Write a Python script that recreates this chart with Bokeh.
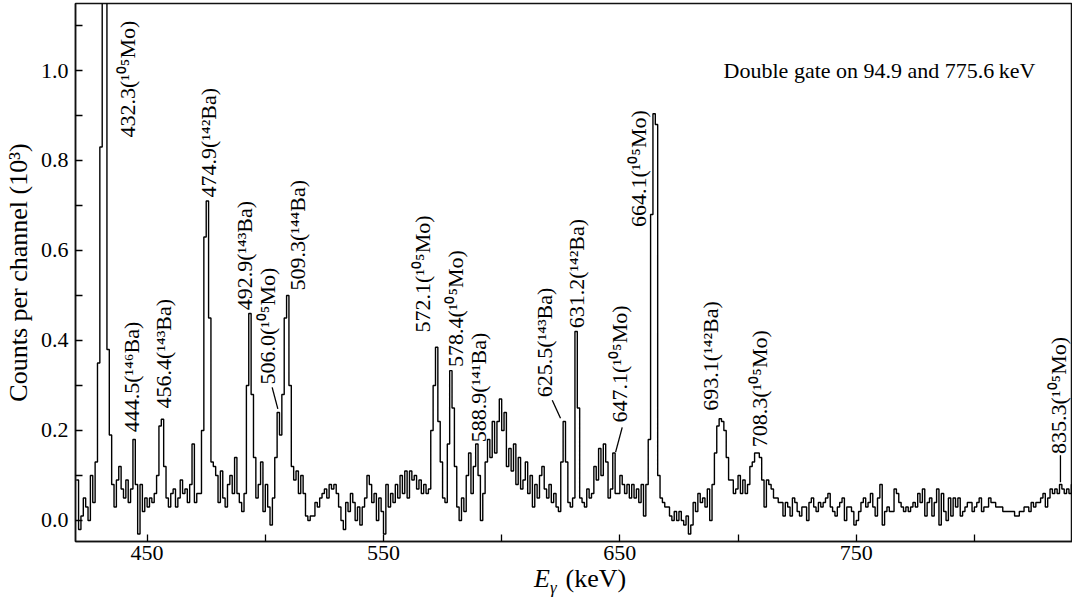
import math
from bokeh.plotting import figure
from bokeh.layouts import column
from bokeh.models import FixedTicker, Label, ColumnDataSource, PrintfTickFormatter, Div
from bokeh.core.properties import value
from bokeh.embed import file_html
from bokeh.resources import INLINE

# ---------------- data ----------------
energy_start_kev = 420
bin_width_kev = 1
# counts per channel, in units of 10^3, one value per 1-keV channel starting at 420 keV
counts_1e3 = [
    0.09, -0.02, 0.01, 0.05, 0.03, 0.00, 0.10, 0.04, 0.13, 0.35,   # 420
    0.83, 1.40, 1.40, 0.38, 0.19, 0.08, 0.03, 0.09, 0.12, 0.07,    # 430
    0.05, 0.09, 0.04, 0.07, 0.18, 0.08, -0.03, 0.08, 0.02, 0.05,   # 440
    0.03, 0.05, 0.04, 0.06, 0.10, 0.21, 0.225, 0.12, 0.05, 0.03,   # 450
    0.06, 0.07, 0.03, 0.05, 0.09, 0.06, 0.07, 0.04, 0.08, 0.17,    # 460
    0.04, 0.06, 0.06, 0.20, 0.63, 0.71, 0.45, 0.13, 0.12, 0.10,    # 470
    0.04, 0.11, 0.05, 0.03, 0.08, 0.10, 0.06, 0.14, 0.06, 0.04,    # 480
    0.02, 0.06, 0.30, 0.46, 0.28, 0.14, 0.05, 0.08, 0.13, 0.02,    # 490
    0.08, 0.03, -0.01, 0.05, 0.14, 0.24, 0.19, 0.28, 0.45, 0.50,   # 500
    0.30, 0.12, 0.09, 0.11, 0.06, 0.10, 0.06, 0.01, 0.00, 0.01,    # 510
    0.01, 0.04, 0.03, 0.05, 0.06, 0.07, 0.05, 0.08, 0.07, 0.08,    # 520
    0.06, 0.03, 0.00, -0.02, 0.04, 0.02, 0.06, 0.04, 0.00, 0.03,   # 530
    -0.01, 0.03, 0.05, 0.10, 0.08, 0.04, 0.06, 0.00, 0.05, 0.02,   # 540
    -0.03, 0.08, 0.03, 0.06, 0.04, 0.08, 0.05, 0.10, 0.06, 0.11,   # 550
    0.05, 0.11, 0.09, 0.10, 0.07, 0.09, 0.06, 0.08, 0.06, 0.07,    # 560
    0.20, 0.30, 0.385, 0.22, 0.13, 0.05, 0.04, 0.17, 0.333, 0.25,  # 570
    0.12, 0.03, 0.00, 0.05, 0.02, 0.10, 0.15, 0.06, 0.12, 0.17,    # 580
    0.10, 0.00, 0.06, 0.13, 0.18, 0.14, 0.22, 0.15, 0.22, 0.27,    # 590
    0.20, 0.24, 0.12, 0.16, 0.11, 0.17, 0.08, 0.14, 0.07, 0.09,    # 600
    0.13, 0.06, 0.10, 0.03, 0.08, 0.05, 0.10, 0.12, 0.07, 0.05,    # 610
    0.08, 0.04, 0.06, 0.03, 0.02, 0.13, 0.22, 0.13, 0.04, 0.03,    # 620
    0.05, 0.42, 0.25, 0.05, 0.04, 0.03, 0.07, 0.05, 0.06, 0.12,    # 630
    0.09, 0.16, 0.10, 0.17, 0.13, 0.05, 0.07, 0.15, 0.06, 0.06,    # 640
    0.10, 0.08, 0.06, 0.08, 0.05, 0.08, 0.05, 0.07, 0.04, 0.08,    # 650
    0.01, 0.08, 0.18, 0.68, 0.904, 0.88, 0.10, 0.05, 0.04, 0.03,   # 660
    0.03, 0.01, 0.00, 0.02, 0.00, 0.02, 0.00, -0.01, 0.01, -0.03,  # 670
    -0.01, 0.04, 0.02, 0.06, 0.04, 0.05, 0.03, 0.07, 0.00, 0.08,   # 680
    0.15, 0.21, 0.226, 0.22, 0.20, 0.14, 0.09, 0.09, 0.06, 0.07,   # 690
    0.10, 0.06, 0.09, 0.06, 0.08, 0.12, 0.13, 0.15, 0.15, 0.14,    # 700
    0.09, 0.03, 0.09, 0.08, 0.07, 0.05, 0.05, 0.04, 0.04, 0.01,    # 710
    0.04, 0.03, 0.01, 0.05, 0.04, 0.02, 0.01, 0.03, 0.03, 0.00,    # 720
    0.04, 0.05, 0.03, 0.02, 0.04, 0.03, 0.04, 0.05, 0.06, 0.03,    # 730
    0.02, 0.01, 0.03, 0.04, 0.05, 0.00, 0.03, 0.03, 0.02, -0.01,   # 740
    0.00, 0.02, 0.04, 0.05, 0.03, 0.04, 0.06, 0.03, 0.01, 0.05,    # 750
    0.08, -0.01, 0.02, 0.03, 0.02, 0.02, 0.07, 0.06, 0.04, 0.03,   # 760
    0.02, 0.03, 0.02, 0.03, 0.04, 0.03, 0.06, 0.04, 0.07, 0.01,    # 770
    0.04, 0.05, 0.01, 0.04, 0.07, -0.01, 0.06, 0.02, 0.00, 0.05,   # 780
    0.01, 0.05, 0.03, 0.05, 0.01, 0.02, 0.03, 0.04, 0.04, 0.02,    # 790
    0.03, 0.04, 0.05, 0.02, 0.03, 0.03, 0.05, 0.04, 0.04, 0.03,    # 800
    0.03, 0.03, 0.02, 0.02, 0.02, 0.02, 0.02, 0.01, 0.01, 0.02,    # 810
    0.02, 0.03, 0.03, 0.02, 0.04, 0.03, 0.04, 0.04, 0.05, 0.06,    # 820
    0.03, 0.05, 0.07, 0.06, 0.07, 0.06, 0.08, 0.07, 0.06, 0.07,    # 830
    0.06, 0.08, 0.06,                                              # 840
]

x_ticks_labeled = [450, 550, 650, 750]
x_ticks_unlabeled = [500, 600, 700, 800]
y_ticks_labeled = [0.0, 0.2, 0.4, 0.6, 0.8, 1.0]
y_ticks_unlabeled = [0.1, 0.3, 0.5, 0.7, 0.9, 1.1]

peak_label_texts = [
    "432.3(\u00b9\u2070\u2075Mo)", "444.5(\u00b9\u2074\u2076Ba)", "456.4(\u00b9\u2074\u00b3Ba)",
    "474.9(\u00b9\u2074\u00b2Ba)", "492.9(\u00b9\u2074\u00b3Ba)", "506.0(\u00b9\u2070\u2075Mo)",
    "509.3(\u00b9\u2074\u2074Ba)", "572.1(\u00b9\u2070\u2075Mo)", "578.4(\u00b9\u2070\u2075Mo)",
    "588.9(\u00b9\u2074\u00b9Ba)", "625.5(\u00b9\u2074\u00b3Ba)", "631.2(\u00b9\u2074\u00b2Ba)",
    "647.1(\u00b9\u2070\u2075Mo)", "664.1(\u00b9\u2070\u2075Mo)", "693.1(\u00b9\u2074\u00b2Ba)",
    "708.3(\u00b9\u2070\u2075Mo)", "835.3(\u00b9\u2070\u2075Mo)",
]
peak_label_kev = [441.6, 443.2, 457.1, 475.8, 491.0, 501.1, 513.8, 566.7, 580.3,
                  590.3, 618.2, 631.8, 649.9, 657.7, 688.4, 709.2, 835.4]
peak_label_counts = [0.851, 0.196, 0.249, 0.718, 0.467, 0.302, 0.511, 0.418, 0.341,
                     0.174, 0.274, 0.427, 0.218, 0.652, 0.244, 0.163, 0.148]

leader_kev_start = [502.9, 621.4, 651.0, 836.4]
leader_counts_start = [0.296, 0.267, 0.207, 0.145]
leader_kev_end = [505.3, 624.9, 648.2, 836.4]
leader_counts_end = [0.248, 0.227, 0.152, 0.085]

gate_note = "Double gate on 94.9 and 775.6\u2009keV"
y_title = "Counts per channel (10\u00b3)"
x_title_html = ("<i>E</i><sub style='font-size:17px'><i>\u03b3</i></sub>"
                "<span style='margin-left:9px'>(keV)</span>")

FONT = "Liberation Serif"

# ---------------- figure ----------------
x_lo, x_hi = 419.7, 841.5
y_lo, y_hi = -0.0467, 1.1489

p = figure(width=1072, height=573, output_backend="svg", toolbar_location=None,
           x_range=(x_lo, x_hi), y_range=(y_lo, y_hi),
           min_border_left=75, min_border_right=0, min_border_top=3, min_border_bottom=32)
p.xgrid.visible = False
p.ygrid.visible = False
p.background_fill_color = "white"
p.border_fill_color = "white"
p.outline_line_color = "#111111"
p.outline_line_width = 1.5

edges = [energy_start_kev + i * bin_width_kev for i in range(len(counts_1e3))]
xs = edges + [edges[-1] + bin_width_kev]
ys = counts_1e3 + [counts_1e3[-1]]
p.step(xs, ys, mode="after", line_color="black", line_width=1.4)

# axes
for ax in (p.xaxis[0], p.yaxis[0]):
    ax.axis_line_width = 1.5
    ax.axis_line_color = "#111111"
    ax.major_tick_in = 7
    ax.major_tick_out = 0
    ax.minor_tick_in = 7
    ax.minor_tick_out = 0
    ax.major_tick_line_width = 1.3
    ax.minor_tick_line_width = 1.3
    ax.major_label_text_font = FONT
    ax.major_label_text_font_size = "22px"
    ax.major_label_text_color = "black"

p.xaxis.ticker = FixedTicker(ticks=x_ticks_labeled, minor_ticks=x_ticks_unlabeled)
p.yaxis.ticker = FixedTicker(ticks=y_ticks_labeled, minor_ticks=y_ticks_unlabeled)
p.yaxis.formatter = PrintfTickFormatter(format="%.1f")
p.xaxis.major_label_standoff = 4
p.yaxis.major_label_standoff = 7

p.yaxis.axis_label = y_title
p.yaxis.axis_label_text_font = FONT
p.yaxis.axis_label_text_font_size = "26px"
p.yaxis.axis_label_text_font_style = "normal"
p.yaxis.axis_label_text_color = "black"
p.yaxis.axis_label_standoff = 5

# peak labels
src = ColumnDataSource(dict(x=peak_label_kev, y=peak_label_counts, t=peak_label_texts))
p.text(x="x", y="y", text="t", source=src, angle=math.pi / 2,
       text_align="left", text_baseline="middle",
       text_font=value(FONT), text_font_size="22px", text_color="black")

p.segment(x0=leader_kev_start, y0=leader_counts_start, x1=leader_kev_end, y1=leader_counts_end,
          line_color="black", line_width=1.3)

# gate note
p.add_layout(Label(x=693.9, y=1.0, text=gate_note, text_align="left", text_baseline="middle",
                   text_font=FONT, text_font_size="22px", text_color="black"))

# x-axis title as HTML text below the figure
xt = Div(text=("<div style=\"position:relative; left:534px; top:-7px; white-space:nowrap; "
               "font-family:'Liberation Serif'; font-size:26px; line-height:26px; color:black;\">"
               + x_title_html + "</div>"),
         width=1072, height=20, margin=(0, 0, 0, 0))

layout = column(p, xt, spacing=0)

with open("out.html", "w", encoding="utf-8") as f:
    f.write(file_html(layout, INLINE))
